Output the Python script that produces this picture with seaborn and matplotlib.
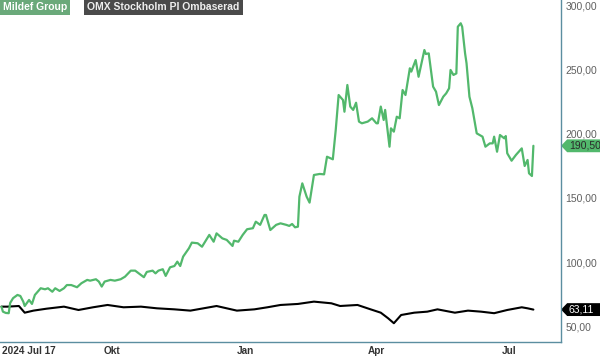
import pandas as pd
import matplotlib.pyplot as plt
import matplotlib.transforms as mtransforms
from matplotlib.patches import Polygon
import seaborn as sns

# Mildef Group share price (SEK)
mildef_dates = [
    "2024-07-17", "2024-07-18", "2024-07-20", "2024-07-22", "2024-07-23", "2024-07-25",
    "2024-07-28", "2024-07-30", "2024-08-01", "2024-08-02", "2024-08-05", "2024-08-07",
    "2024-08-09", "2024-08-13", "2024-08-16", "2024-08-18", "2024-08-21", "2024-08-23",
    "2024-08-26", "2024-08-29", "2024-08-31", "2024-09-03", "2024-09-07", "2024-09-10",
    "2024-09-14", "2024-09-16", "2024-09-20", "2024-09-22", "2024-09-24", "2024-09-26",
    "2024-09-30", "2024-10-03", "2024-10-07", "2024-10-10", "2024-10-14", "2024-10-17",
    "2024-10-21", "2024-10-23", "2024-10-25", "2024-10-29", "2024-10-31", "2024-11-02",
    "2024-11-05", "2024-11-07", "2024-11-10", "2024-11-13", "2024-11-15", "2024-11-17",
    "2024-11-19", "2024-11-23", "2024-11-25", "2024-11-29", "2024-12-02", "2024-12-07",
    "2024-12-10", "2024-12-12", "2024-12-16", "2024-12-19", "2024-12-23", "2024-12-24",
    "2024-12-27", "2024-12-30", "2025-01-02", "2025-01-06", "2025-01-08", "2025-01-11",
    "2025-01-14", "2025-01-15", "2025-01-18", "2025-01-22", "2025-01-25", "2025-01-29",
    "2025-01-31", "2025-02-02", "2025-02-04", "2025-02-06", "2025-02-07", "2025-02-09",
    "2025-02-12", "2025-02-14", "2025-02-17", "2025-02-21", "2025-02-24", "2025-02-26",
    "2025-03-02", "2025-03-04", "2025-03-06", "2025-03-09", "2025-03-10", "2025-03-12",
    "2025-03-14", "2025-03-16", "2025-03-18", "2025-03-20", "2025-03-22", "2025-03-26",
    "2025-03-29", "2025-04-01", "2025-04-02", "2025-04-04", "2025-04-06", "2025-04-07",
    "2025-04-10", "2025-04-11", "2025-04-13", "2025-04-15", "2025-04-17", "2025-04-19",
    "2025-04-21", "2025-04-24", "2025-04-25", "2025-04-28", "2025-04-30", "2025-05-04",
    "2025-05-05", "2025-05-07", "2025-05-10", "2025-05-12", "2025-05-14", "2025-05-17",
    "2025-05-19", "2025-05-21", "2025-05-22", "2025-05-24", "2025-05-26", "2025-05-27",
    "2025-05-29", "2025-05-30", "2025-06-01", "2025-06-02", "2025-06-04", "2025-06-06",
    "2025-06-09", "2025-06-11", "2025-06-13", "2025-06-15", "2025-06-18", "2025-06-20",
    "2025-06-21", "2025-06-23", "2025-06-25", "2025-06-28", "2025-06-29", "2025-06-30",
    "2025-07-03", "2025-07-06", "2025-07-08", "2025-07-10", "2025-07-12", "2025-07-14",
    "2025-07-15", "2025-07-17", "2025-07-18",
]
mildef_values = [
    65.4, 61.5, 60.5, 60.3, 68.3, 72.0,
    74.5, 73.7, 69.3, 65.9, 70.6, 67.5,
    74.5, 79.7, 78.9, 79.7, 77.0, 79.7,
    77.6, 79.7, 82.2, 82.2, 80.5, 83.6,
    86.2, 85.6, 86.7, 84.9, 81.0, 84.9,
    86.2, 85.6, 86.7, 88.7, 93.4, 93.4,
    90.0, 88.3, 92.4, 93.4, 91.3, 93.4,
    94.5, 89.3, 96.0, 97.0, 100.4, 97.0,
    104.3, 110.8, 115.2, 114.7, 112.0, 121.2,
    115.9, 122.4, 118.5, 117.3, 112.6, 116.7,
    115.9, 121.2, 125.6, 126.4, 131.5, 129.0,
    136.7, 136.7, 125.0, 129.0, 130.2, 129.0,
    128.2, 129.7, 127.1, 127.6, 150.9, 161.3,
    150.9, 146.3, 167.8, 168.6, 168.3, 182.0,
    180.0, 202.8, 230.0, 226.1, 217.0, 237.8,
    221.0, 218.4, 224.0, 209.3, 208.0, 209.3,
    211.9, 208.0, 208.0, 221.0, 210.6, 218.4,
    189.8, 204.1, 201.5, 213.1, 211.9, 233.9,
    230.0, 250.8, 248.2, 257.2, 244.2, 265.0,
    261.9, 262.4, 236.5, 232.6, 222.2, 228.7,
    231.3, 235.2, 249.5, 245.6, 246.8, 283.1,
    285.8, 283.1, 262.4, 254.7, 228.7, 219.7,
    200.2, 198.9, 197.6, 189.8, 192.4, 192.4,
    197.6, 185.9, 198.9, 196.3, 198.1, 184.7,
    178.9, 183.4, 185.9, 188.5, 174.8, 179.5,
    169.1, 167.0, 190.5,
]

# OMX Stockholm PI, rebased
omx_dates = [
    "2024-07-17", "2024-07-21", "2024-07-29", "2024-08-02", "2024-08-08", "2024-08-17",
    "2024-08-29", "2024-09-08", "2024-09-18", "2024-09-28", "2024-10-09", "2024-10-21",
    "2024-11-01", "2024-11-13", "2024-11-24", "2024-12-03", "2024-12-12", "2024-12-26",
    "2025-01-07", "2025-01-16", "2025-01-25", "2025-02-06", "2025-02-17", "2025-03-01",
    "2025-03-07", "2025-03-19", "2025-03-28", "2025-04-04", "2025-04-09", "2025-04-13",
    "2025-04-18", "2025-04-27", "2025-05-06", "2025-05-13", "2025-05-25", "2025-06-03",
    "2025-06-12", "2025-06-21", "2025-06-30", "2025-07-10", "2025-07-14", "2025-07-18",
]
omx_values = [
    65.4, 65.4, 65.9, 60.7, 62.3, 63.8,
    65.4, 62.8, 64.9, 66.7, 64.9, 65.4,
    64.1, 63.3, 62.3, 64.1, 65.9, 62.3,
    63.3, 64.9, 66.7, 67.5, 69.3, 68.0,
    65.9, 66.7, 63.3, 60.7, 56.4, 52.5,
    58.9, 60.7, 61.5, 63.3, 60.7, 62.3,
    61.5, 60.3, 62.8, 64.9, 64.1, 63.11,
]

y_ticks = [50, 100, 150, 200, 250, 300]
x_tick_dates = ["2024-10-01", "2025-01-01", "2025-04-01", "2025-07-01"]
x_tick_labels = ["Okt", "Jan", "Apr", "Jul"]
marker_date = "2025-05-27"

green = "#52b86c"
axis_color = "#5b8ea0"


def fmt(v):
    return f"{v:.2f}".replace(".", ",")


def main():
    sns.set_style("white")
    plt.rcParams["font.family"] = ["Liberation Sans", "DejaVu Sans"]

    mildef = pd.DataFrame({"date": pd.to_datetime(mildef_dates), "value": mildef_values})
    omx = pd.DataFrame({"date": pd.to_datetime(omx_dates), "value": omx_values})

    fig = plt.figure(figsize=(6, 3.58), dpi=100)
    ax = fig.add_axes([0, 1 - 342 / 358, 561 / 600, 342 / 358])

    sns.lineplot(data=omx, x="date", y="value", color="black", linewidth=1.5, ax=ax)
    sns.lineplot(data=mildef, x="date", y="value", color=green, linewidth=1.6, ax=ax)

    ax.set_xlim(pd.Timestamp("2024-07-16"), pd.Timestamp("2025-08-06"))
    ax.set_ylim(37.9, 303.9)
    ax.set_xlabel("")
    ax.set_ylabel("")

    for side in ["top", "left"]:
        ax.spines[side].set_visible(False)
    for side in ["right", "bottom"]:
        ax.spines[side].set_color(axis_color)
        ax.spines[side].set_linewidth(1.0)

    ax.yaxis.tick_right()
    ax.set_yticks(y_ticks)
    ax.set_yticklabels([fmt(v) for v in y_ticks])
    ax.tick_params(axis="y", length=0, pad=3, labelsize=7.5, labelcolor="#606060")

    ax.set_xticks(pd.to_datetime(x_tick_dates))
    ax.set_xticklabels(x_tick_labels, fontweight="bold")
    ax.set_xticks([pd.Timestamp(marker_date)], minor=True)
    ax.tick_params(axis="x", which="major", length=4, width=1, color=axis_color,
                   labelsize=7.2, labelcolor="#333333", pad=-1)
    ax.tick_params(axis="x", which="minor", length=4, width=1, color="#d04848")
    ax.text(0.003, -0.011, "2024 Jul 17", transform=ax.transAxes, ha="left", va="top",
            fontsize=7.2, fontweight="bold", color="#333333")

    # value tags on the right axis
    trans = mtransforms.blended_transform_factory(ax.transAxes, ax.transData)
    half = 5.0
    for val, face, tcol in [(mildef_values[-1], green, "#2a2a2a"), (omx_values[-1], "black", "white")]:
        poly = Polygon([(1.0, val), (1.011, val + half), (1.07, val + half),
                        (1.07, val - half), (1.011, val - half)],
                       closed=True, transform=trans, facecolor=face, edgecolor="none",
                       clip_on=False)
        ax.add_patch(poly)
        ax.text(1.014, val, fmt(val), transform=trans, ha="left", va="center",
                fontsize=7.5, color=tcol, clip_on=False)

    # legend boxes
    fig.text(3 / 600, 1 - 7 / 358, "Mildef Group", ha="left", va="center", fontsize=7.5,
             fontweight="bold", color="white",
             bbox=dict(boxstyle="square,pad=0.3", facecolor="#6aa97a", edgecolor="none"))
    fig.text(87 / 600, 1 - 7 / 358, "OMX Stockholm PI Ombaserad", ha="left", va="center",
             fontsize=7.5, fontweight="bold", color="#eeeeee",
             bbox=dict(boxstyle="square,pad=0.3", facecolor="#4a4a4a", edgecolor="none"))

    fig.savefig("out.png", dpi=100)
    plt.close(fig)


if __name__ == "__main__":
    main()
